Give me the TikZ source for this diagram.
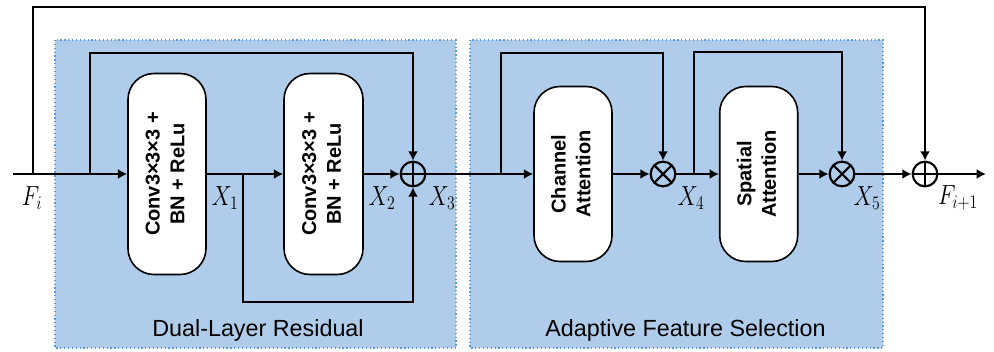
\documentclass[tikz,border=0pt]{standalone}
\usepackage{fontspec}
\setmainfont{Liberation Sans}
\usetikzlibrary{arrows.meta,calc}
\definecolor{panelfill}{RGB}{175,205,234}
\definecolor{paneledge}{RGB}{91,155,213}
\newcommand{\mylab}[1]{\scalebox{0.82}[1]{$#1$}}
\begin{document}
\begin{tikzpicture}[x=0.75pt,y=-0.75pt,
  panel/.style={fill=panelfill,draw=paneledge,dotted,line width=0.9pt},
  blockbox/.style={draw=black,fill=white,line width=1.2pt,rounded corners=19.5pt,inner sep=0pt,
    font=\fontsize{15}{18.5}\selectfont\bfseries,align=center},
  conn/.style={line width=1.8pt,-{Latex[length=7pt,width=7.5pt]}},
  wire/.style={line width=1.8pt},
  opcirc/.style={circle,draw=black,line width=1.6pt,minimum size=18.5pt,inner sep=0pt},
  oplusnode/.style={opcirc,path picture={\draw[line width=1.6pt]
    (path picture bounding box.north) -- (path picture bounding box.south)
    (path picture bounding box.west) -- (path picture bounding box.east);}},
  otimesnode/.style={opcirc,path picture={\draw[line width=1.6pt]
    (path picture bounding box.north west) -- (path picture bounding box.south east)
    (path picture bounding box.south west) -- (path picture bounding box.north east);}},
  mlabel/.style={font=\fontsize{21}{24}\selectfont,inner sep=0pt},
  ptitle/.style={font=\fontsize{17.5}{21}\selectfont,inner sep=0pt}
]
\useasboundingbox (0,0) rectangle (994,351);

% panels
\draw[panel] (55,40) rectangle (456,348);
\draw[panel] (470,40) rectangle (883,348);
\node[ptitle] (t1) at (258,330) {Dual-Layer Residual};
\node[ptitle] (t2) at (685.5,330) {Adaptive Feature Selection};

% blocks
\node[blockbox,minimum width=58.5pt,minimum height=150.75pt] (c1) at (167,174)
  {\rotatebox{90}{\begin{tabular}{@{}c@{}}Conv3×3×3 +\\BN + ReLu\end{tabular}}};
\node[blockbox,minimum width=59.25pt,minimum height=150.75pt] (c2) at (323.5,174)
  {\rotatebox{90}{\begin{tabular}{@{}c@{}}Conv3×3×3 +\\BN + ReLu\end{tabular}}};
\node[blockbox,minimum width=58.5pt,minimum height=131.25pt] (ca) at (573,174)
  {\rotatebox{90}{\begin{tabular}{@{}c@{}}Channel\\Attention\end{tabular}}};
\node[blockbox,minimum width=58.5pt,minimum height=131.25pt] (sa) at (758.7,174)
  {\rotatebox{90}{\begin{tabular}{@{}c@{}}Spatial\\Attention\end{tabular}}};

% operators
\node[oplusnode] (s1) at (413,174) {};
\node[otimesnode] (m1) at (663,174) {};
\node[otimesnode] (m2) at (842,174) {};
\node[oplusnode] (s2) at (925,174) {};

% coordinates
\coordinate (start) at (13,174);
\coordinate (j0) at (33,174);
\coordinate (top) at (33,7);
\coordinate (j1) at (90,174);
\coordinate (l1) at (90,53);
\coordinate (j2) at (243,174);
\coordinate (l2) at (243,302);
\coordinate (j3) at (501,174);
\coordinate (l3) at (501,53);
\coordinate (j4) at (694,174);
\coordinate (l4) at (694,52);
\coordinate (out) at (986,174);

% connectors
\draw[wire] (start) -- (j1);
\draw[conn] (j1) -- (c1.west);
\draw[conn] (j0) -- (top) -| (s2.north);
\draw[conn] (j1) -- (l1) -| (s1.north);
\draw[conn] (c1.east) -- (c2.west);
\draw[conn] (j2) -- (l2) -| (s1.south);
\draw[conn] (c2.east) -- (s1.west);
\draw[wire] (s1.east) -- (j3);
\draw[conn] (j3) -- (ca.west);
\draw[conn] (j3) -- (l3) -| (m1.north);
\draw[conn] (ca.east) -- (m1.west);
\draw[wire] (m1.east) -- (j4);
\draw[conn] (j4) -- (sa.west);
\draw[conn] (j4) -- (l4) -| (m2.north);
\draw[conn] (sa.east) -- (m2.west);
\draw[conn] (m2.east) -- (s2.west);
\draw[conn] (s2.east) -- (out);

% labels
\node[mlabel] (lfi) at (32,198) {\mylab{F_i}};
\node[mlabel] (lx1) at (225,198) {\mylab{X_1}};
\node[mlabel] (lx2) at (382,198) {\mylab{X_2}};
\node[mlabel] (lx3) at (442,198) {\mylab{X_3}};
\node[mlabel] (lx4) at (691,198) {\mylab{X_4}};
\node[mlabel] (lx5) at (867,198) {\mylab{X_5}};
\node[mlabel] (lfo) at (958,198) {\mylab{F_{i+1}}};
\end{tikzpicture}
\end{document}
